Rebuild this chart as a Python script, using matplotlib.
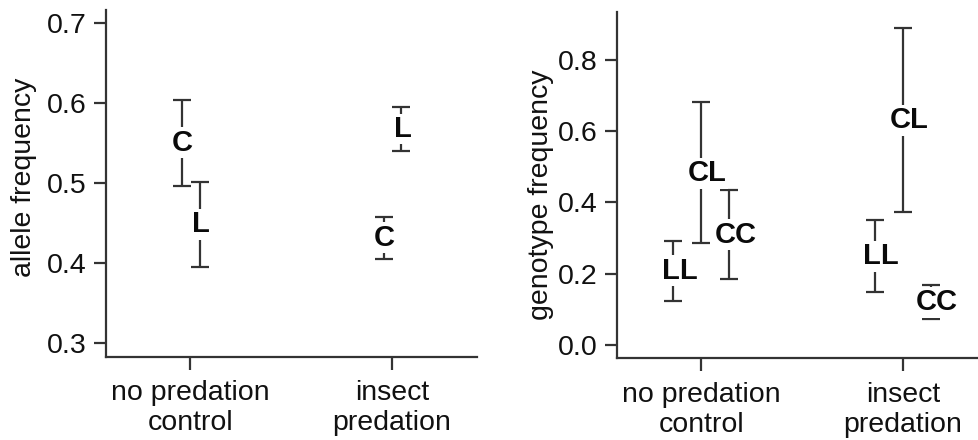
import matplotlib
matplotlib.use("Agg")
import matplotlib.pyplot as plt

plt.rcParams['font.family'] = ['Liberation Sans', 'DejaVu Sans']

# treatment groups (shared by both panels)
groups = ["no predation\ncontrol", "insect\npredation"]

# allele frequencies: mean with lower / upper interval bounds
alleles = ["C", "L"]
allele_mean = {"C": [0.551, 0.432], "L": [0.449, 0.568]}
allele_lo = {"C": [0.497, 0.405], "L": [0.396, 0.541]}
allele_hi = {"C": [0.604, 0.458], "L": [0.502, 0.595]}

# genotype frequencies: mean with lower / upper interval bounds
genotypes = ["LL", "CL", "CC"]
geno_mean = {"LL": [0.208, 0.249], "CL": [0.482, 0.631], "CC": [0.310, 0.120]}
geno_lo = {"LL": [0.124, 0.148], "CL": [0.285, 0.374], "CC": [0.184, 0.072]}
geno_hi = {"LL": [0.293, 0.351], "CL": [0.681, 0.889], "CC": [0.435, 0.168]}

allele_ticks = [0.3, 0.4, 0.5, 0.6, 0.7]
geno_ticks = [0.0, 0.2, 0.4, 0.6, 0.8]

INK = "#333333"
FS = 20.5

fig = plt.figure(figsize=(9.79, 4.40), dpi=100)
ax1 = fig.add_axes([0.108, 0.1893, 0.379, 0.7877])
ax2 = fig.add_axes([0.630, 0.1857, 0.3787, 0.7877])


def style(ax, ylim, yticks, fmt):
    for s in ("top", "right"):
        ax.spines[s].set_visible(False)
    for s in ("left", "bottom"):
        ax.spines[s].set_color(INK)
        ax.spines[s].set_linewidth(1.6)
    ax.set_ylim(*ylim)
    ax.set_yticks(yticks)
    ax.set_yticklabels([fmt.format(v) for v in yticks])
    ax.set_xlim(-0.418, 1.42)
    ax.set_xticks(range(len(groups)))
    ax.set_xticklabels(groups, linespacing=1.2)
    ax.tick_params(axis="both", direction="out", length=9, width=1.6,
                   color=INK, labelsize=FS, pad=5, labelcolor="#111111")
    ax.tick_params(axis="x", pad=8)


def draw(ax, names, mean, lo, hi, offsets):
    for name, dx in zip(names, offsets):
        xs = [i + dx for i in range(len(groups))]
        m = mean[name]
        err = [[mm - l for mm, l in zip(m, lo[name])],
               [h - mm for mm, h in zip(m, hi[name])]]
        ax.errorbar(xs, m, yerr=err, fmt="none", ecolor=INK,
                    elinewidth=1.6, capsize=6.5, capthick=1.6, zorder=2)
        shift = 1 + 5 * (len(name) - 1)
        for x, y in zip(xs, m):
            ax.annotate(name, (x, y), xytext=(shift * 0.72, 0),
                        textcoords="offset points", ha="center", va="center",
                        fontsize=21, fontweight="bold", color="#0a0a0a",
                        bbox=dict(boxstyle="square,pad=0.05", fc="white",
                                  ec="none"), zorder=3)


draw(ax1, alleles, allele_mean, allele_lo, allele_hi, [-0.042, 0.047])
style(ax1, (0.2833, 0.7167), allele_ticks, "{:.1f}")
ax1.set_ylabel("allele frequency", fontsize=FS, color="#111111")
ax1.yaxis.set_label_coords(-0.185, 0.517)

draw(ax2, genotypes, geno_mean, geno_lo, geno_hi, [-0.137, 0.0, 0.14])
style(ax2, (-0.0374, 0.9356), geno_ticks, "{:.1f}")
ax2.set_ylabel("genotype frequency", fontsize=FS, color="#111111")
ax2.yaxis.set_label_coords(-0.168, 0.473)

fig.savefig("out.png", dpi=100)
